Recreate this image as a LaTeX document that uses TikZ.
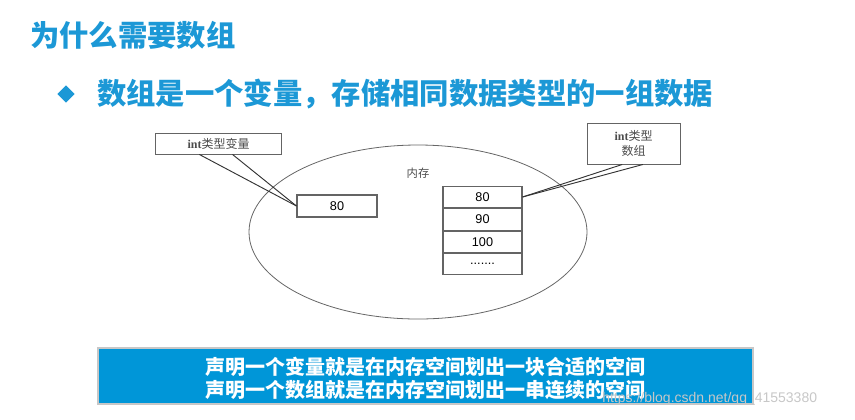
\documentclass[tikz,border=0pt]{standalone}
\usepackage{fontspec}
\setmainfont{Liberation Serif}
\newfontfamily\cjk{Noto Sans CJK SC}
\newfontfamily\arialish{Liberation Sans}
\usetikzlibrary{shapes,positioning,calc,shadows}
\definecolor{slideblue}{RGB}{28,152,214}
\definecolor{barblue}{RGB}{0,150,216}
\definecolor{edgegray}{RGB}{100,100,100}

\begin{document}
\begin{tikzpicture}[x=0.75pt, y=-0.75pt,
  titletxt/.style={anchor=west, inner sep=0pt, text=slideblue, font=\cjk\bfseries\fontsize{22}{26}\selectfont},
  bullet/.style={diamond, fill=slideblue, inner sep=0pt, minimum size=13pt},
  lblbox/.style={rectangle, draw=edgegray, line width=0.7pt, fill=white, inner sep=1pt, font=\fontsize{9}{11}\selectfont, text=black!70},
  cell/.style={rectangle, draw=edgegray, line width=0.8pt, minimum width=59.25pt, minimum height=16pt, inner sep=0pt, font=\arialish\fontsize{9.5}{11}\selectfont},
  callout/.style={draw=black!80, line width=0.7pt}]
  \useasboundingbox (0,0) rectangle (855,419);
  % heading
  \node[titletxt] (title) at (30,35) {为什么需要数组};
  \node[bullet] (dia) at (66,94) {};
  \node[titletxt] (head) at (97,94) {数组是一个变量，存储相同数据类型的一组数据};
  % memory
  \node[ellipse, draw=black!60, line width=0.6pt, minimum width=253.5pt, minimum height=130.5pt, inner sep=0pt] (mem) at (418,232) {};
  \node[font=\cjk\fontsize{8.5}{10}\selectfont, text=black!70] (memlbl) at (418,173) {内存};
  \node[cell, minimum width=60pt, minimum height=16.5pt] (v80) at (337,206) {80};
  \node[cell] (a1) at (482.5,197) {80};
  \node[cell, below=0pt of a1] (a2) {90};
  \node[cell, below=0pt of a2] (a3) {100};
  \node[cell, below=0pt of a3] (a4) {.......};
  % labels
  \node[lblbox, minimum width=95pt, minimum height=15.75pt] (varlbl) at (218.5,143.5) {\textbf{int}{\cjk 类型变量}};
  \node[lblbox, minimum width=69.75pt, minimum height=30.75pt, align=center] (arrlbl) at (633.5,143.5) {\textbf{int}{\cjk 类型}\\{\cjk 数组}};
  \draw[callout] ($(varlbl.south west)!0.35!(varlbl.south east)$) -- (v80.west);
  \draw[callout] ($(varlbl.south west)!0.61!(varlbl.south east)$) -- (v80.west);
  \draw[callout] ($(arrlbl.south west)!0.38!(arrlbl.south east)$) -- (a1.east);
  \draw[callout] ($(arrlbl.south west)!0.60!(arrlbl.south east)$) -- (a1.east);
  % summary bar
  \node[rectangle, fill=barblue, draw=black!22, line width=2pt, drop shadow={shadow xshift=1pt, shadow yshift=-1pt, opacity=0.35},
    minimum width=491.25pt, minimum height=42pt, inner sep=0pt] (sum) at (425.5,376) {};
  \node[align=center, text=white, inner sep=0pt, font=\cjk\bfseries\fontsize{15}{17.5}\selectfont] (sumtxt) at (425,378.5) {声明一个变量就是在内存空间划出一块合适的空间\\声明一个数组就是在内存空间划出一串连续的空间};
  \node[anchor=west, inner sep=0pt, text=black!22, font=\arialish\fontsize{10.5}{12}\selectfont] (mark) at (602,399) {https://blog.csdn.net/qq\_41553380};
\end{tikzpicture}
\end{document}
